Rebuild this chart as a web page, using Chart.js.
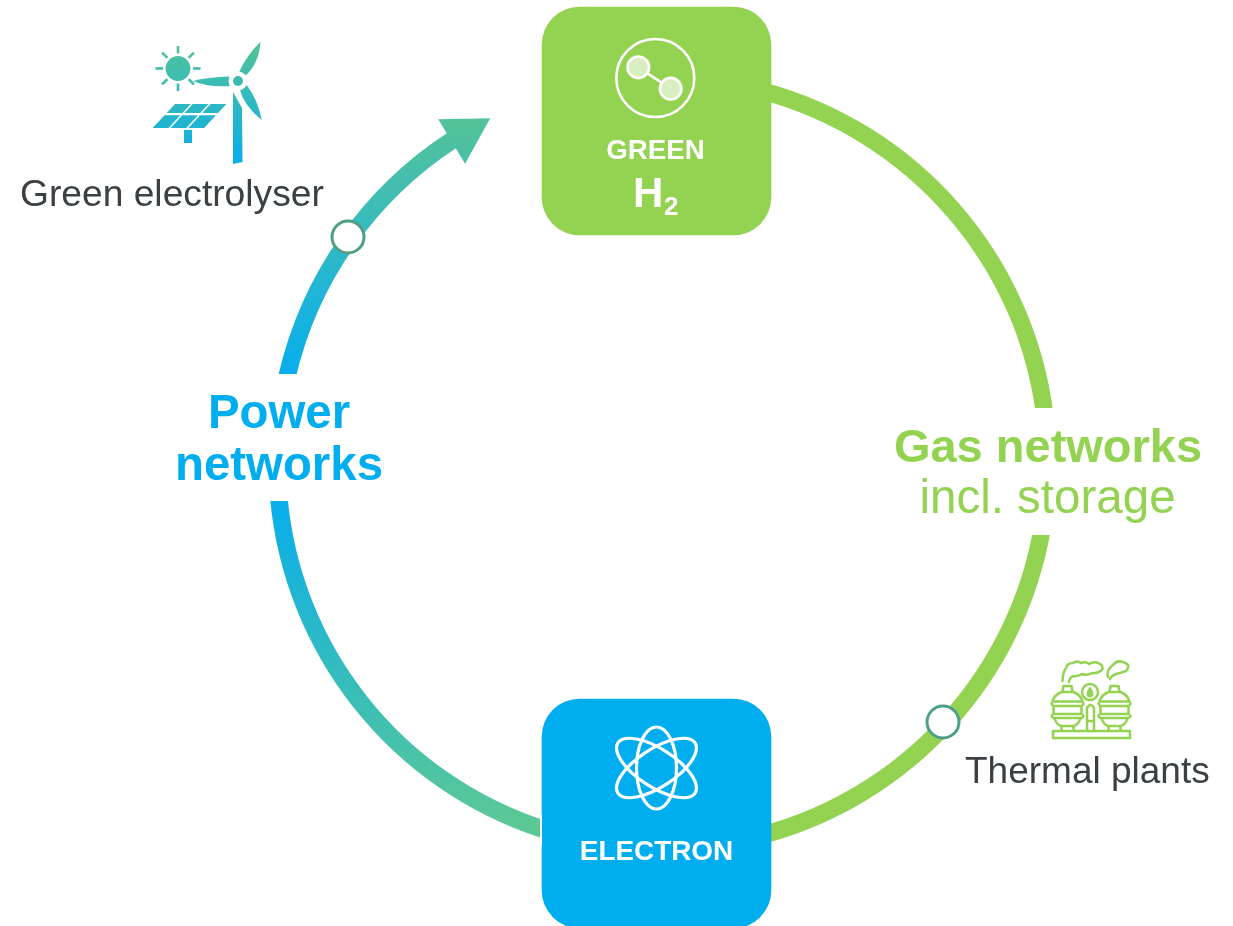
<!DOCTYPE html>
<html>
<head>
<meta charset="utf-8">
<title>Green hydrogen cycle</title>
<script src="https://cdn.jsdelivr.net/npm/chart.js@4"></script>
<style>
  html, body { margin: 0; padding: 0; background: #fff; overflow: hidden; }
  #wrap { width: 1233px; height: 926px; }
</style>
</head>
<body>
<div id="wrap"><canvas id="myChart" width="1233" height="926"></canvas></div>
<script>
// ring slices, in degrees clockwise from the top
const ring_labels = ['', 'gas upper', '', 'gas lower', '', 'power lower', '', 'power upper', ''];
const ring_spans = [15, 68, 16.5, 65.5, 33, 67, 18, 44, 33];

// the two carrier boxes
const box_names = ['GREEN', 'ELECTRON'];
const box_x = [656.5, 656.5];
const box_y = [[7, 235], [699, 928]];

// junction circles on the ring and the arrow head
const junction_x = [348, 943];
const junction_y = [237, 722];
const arrow_x = [464.5];
const arrow_y = [133.7];

// texts
const network_power = ['Power', 'networks'];
const network_gas = ['Gas networks', 'incl. storage'];
const source_labels = ['Green electrolyser', 'Thermal plants'];
const h2_label = ['H', '2'];

const GREEN = '#93d351';
const BLUE = '#00aeef';
const TEAL_TOP = '#54c298';
const TEAL_BLUE = '#08aeec';
const DARK = '#3b4045';
const FONT = "'Liberation Sans', Arial, sans-serif";

function vGradient(chart, y0, y1, stops) {
    const p0 = chart.scales.y.getPixelForValue(y0);
    const p1 = chart.scales.y.getPixelForValue(y1);
    // the scale has no pixels yet on the first pass through the options
    if (!isFinite(p0) || !isFinite(p1)) return stops[0];
    const g = chart.ctx.createLinearGradient(0, p0, 0, p1);
    stops.forEach((c, i) => g.addColorStop(i / (stops.length - 1), c));
    return g;
}

// upper power arc and arrow share one gradient
function upperGradient(chart) {
    return vGradient(chart, 373, 118, [TEAL_BLUE, '#22b5d6', '#3fbdb4', TEAL_TOP]);
}

function ringColor(c) {
    const chart = c.chart;
    switch (c.dataIndex) {
        case 1:
        case 3: return GREEN;
        case 5: return vGradient(chart, 501, 837, [TEAL_BLUE, '#5fc992']);
        case 7: return upperGradient(chart);
        default: return 'rgba(0,0,0,0)';
    }
}

function drawText(ctx, text, x, y, font, color, align) {
    ctx.font = font;
    ctx.fillStyle = color;
    ctx.textAlign = align || 'center';
    ctx.textBaseline = 'alphabetic';
    ctx.fillText(text, x, y);
}

function drawSolarWind(chart, ctx) {
    ctx.save();
    const grad = vGradient(chart, 42, 165, [TEAL_TOP, TEAL_BLUE]);
    ctx.fillStyle = grad;
    ctx.strokeStyle = grad;

    // sun
    ctx.beginPath();
    ctx.arc(178, 68.5, 12.4, 0, Math.PI * 2);
    ctx.fill();
    ctx.lineWidth = 2.6;
    for (let i = 0; i < 8; i++) {
        const a = i * Math.PI / 4;
        ctx.beginPath();
        ctx.moveTo(178 + Math.cos(a) * 15, 68.5 + Math.sin(a) * 15);
        ctx.lineTo(178 + Math.cos(a) * 22.5, 68.5 + Math.sin(a) * 22.5);
        ctx.stroke();
    }

    // solar panel, two rows of three
    const rows = [[104, 113], [115.3, 128]];
    const skew = 22.3 / 24;
    rows.forEach(function (r) {
        for (let i = 0; i < 3; i++) {
            const xl = 175 + i * 17.8;
            const w = 15.8;
            const topShift = (r[0] - 104) * skew;
            const botShift = (r[1] - 104) * skew;
            ctx.beginPath();
            ctx.moveTo(xl - topShift, r[0]);
            ctx.lineTo(xl + w - topShift, r[0]);
            ctx.lineTo(xl + w - botShift, r[1]);
            ctx.lineTo(xl - botShift, r[1]);
            ctx.closePath();
            ctx.fill();
        }
    });
    ctx.fillRect(184, 130, 8, 13);

    // turbine blades
    ctx.beginPath();
    ctx.moveTo(193, 81);
    ctx.quadraticCurveTo(208, 77, 230, 76.5);
    ctx.lineTo(230, 86);
    ctx.quadraticCurveTo(208, 87.5, 193, 81);
    ctx.fill();
    ctx.beginPath();
    ctx.moveTo(239.3, 71.7);
    ctx.quadraticCurveTo(246, 56, 260.5, 41.7);
    ctx.quadraticCurveTo(259, 64, 245, 76);
    ctx.closePath();
    ctx.fill();
    ctx.beginPath();
    ctx.moveTo(246.7, 85);
    ctx.quadraticCurveTo(258, 100, 261.7, 120);
    ctx.quadraticCurveTo(244, 106, 239.3, 88.3);
    ctx.closePath();
    ctx.fill();

    // tower and hub
    ctx.beginPath();
    ctx.moveTo(233, 92);
    ctx.lineTo(242, 108);
    ctx.lineTo(242.5, 162);
    ctx.lineTo(233, 164);
    ctx.closePath();
    ctx.fill();
    ctx.beginPath();
    ctx.arc(238, 81, 9.5, 0, Math.PI * 2);
    ctx.fillStyle = '#fff';
    ctx.fill();
    ctx.beginPath();
    ctx.arc(238, 81, 5, 0, Math.PI * 2);
    ctx.fillStyle = grad;
    ctx.fill();
    ctx.restore();
}

function drawHydrogen(ctx) {
    ctx.save();
    ctx.strokeStyle = '#fff';
    ctx.lineWidth = 2.6;
    ctx.beginPath();
    ctx.arc(655.3, 78, 39, 0, Math.PI * 2);
    ctx.stroke();
    ctx.beginPath();
    ctx.moveTo(638.3, 67.3);
    ctx.lineTo(670.7, 88.7);
    ctx.stroke();
    [[638.3, 67.3], [670.7, 88.7]].forEach(function (p) {
        ctx.beginPath();
        ctx.arc(p[0], p[1], 10.8, 0, Math.PI * 2);
        ctx.fillStyle = '#d9efc1';
        ctx.fill();
        ctx.stroke();
    });
    ctx.restore();
}

function drawAtom(ctx) {
    ctx.save();
    ctx.strokeStyle = '#fff';
    ctx.lineWidth = 3.2;
    ctx.beginPath();
    ctx.ellipse(656.5, 768, 20, 41, 0, 0, Math.PI * 2);
    ctx.stroke();
    [57, -57].forEach(function (deg) {
        ctx.beginPath();
        ctx.ellipse(656.5, 768, 19, 46, deg * Math.PI / 180, 0, Math.PI * 2);
        ctx.stroke();
    });
    ctx.restore();
}

function tank(ctx, cx) {
    ctx.beginPath();
    // cap
    ctx.moveTo(cx - 5, 692);
    ctx.lineTo(cx - 4, 686);
    ctx.lineTo(cx + 4, 686);
    ctx.lineTo(cx + 5, 692);
    // dome
    ctx.moveTo(cx - 6, 692);
    ctx.lineTo(cx + 6, 692);
    ctx.moveTo(cx - 6, 692);
    ctx.quadraticCurveTo(cx - 13, 695, cx - 15, 701);
    ctx.moveTo(cx + 6, 692);
    ctx.quadraticCurveTo(cx + 13, 695, cx + 15, 701);
    // upper band
    ctx.moveTo(cx - 14, 701.5);
    ctx.lineTo(cx + 14, 701.5);
    ctx.moveTo(cx - 14, 706);
    ctx.lineTo(cx + 14, 706);
    ctx.moveTo(cx - 14, 701.5);
    ctx.quadraticCurveTo(cx - 18, 703.7, cx - 14, 706);
    ctx.moveTo(cx + 14, 701.5);
    ctx.quadraticCurveTo(cx + 18, 703.7, cx + 14, 706);
    // waist
    ctx.moveTo(cx - 14, 706);
    ctx.lineTo(cx - 14, 714);
    ctx.moveTo(cx + 14, 706);
    ctx.lineTo(cx + 14, 714);
    // lower band
    ctx.moveTo(cx - 14, 714);
    ctx.lineTo(cx + 14, 714);
    ctx.moveTo(cx - 14, 718);
    ctx.lineTo(cx + 14, 718);
    ctx.moveTo(cx - 14, 714);
    ctx.quadraticCurveTo(cx - 18, 716, cx - 14, 718);
    ctx.moveTo(cx + 14, 714);
    ctx.quadraticCurveTo(cx + 18, 716, cx + 14, 718);
    // base of the tank
    ctx.moveTo(cx - 13, 718);
    ctx.quadraticCurveTo(cx - 11, 725, cx - 6, 726);
    ctx.lineTo(cx + 6, 726);
    ctx.quadraticCurveTo(cx + 11, 725, cx + 13, 718);
    ctx.moveTo(cx - 6, 726);
    ctx.lineTo(cx - 6, 731);
    ctx.moveTo(cx + 6, 726);
    ctx.lineTo(cx + 6, 731);
    ctx.stroke();
}

function drawThermal(ctx) {
    ctx.save();
    ctx.strokeStyle = GREEN;
    ctx.fillStyle = GREEN;
    ctx.lineWidth = 2.5;
    ctx.lineJoin = 'round';
    ctx.lineCap = 'round';
    ctx.strokeRect(1053, 731, 77, 7);
    tank(ctx, 1067.5);
    tank(ctx, 1114.5);

    // centre badge with drop
    ctx.beginPath();
    ctx.arc(1090, 692, 8, 0, Math.PI * 2);
    ctx.stroke();
    ctx.beginPath();
    ctx.moveTo(1090, 686.5);
    ctx.quadraticCurveTo(1094, 692, 1093.4, 694);
    ctx.arc(1090, 694, 3.4, 0, Math.PI);
    ctx.quadraticCurveTo(1086, 692, 1090, 686.5);
    ctx.fill();

    // pipe
    ctx.beginPath();
    ctx.moveTo(1087, 731);
    ctx.lineTo(1087, 708);
    ctx.quadraticCurveTo(1090.5, 702, 1094, 708);
    ctx.lineTo(1094, 731);
    ctx.moveTo(1087, 721);
    ctx.lineTo(1094, 721);
    ctx.stroke();

    // smoke
    ctx.beginPath();
    ctx.moveTo(1062.5, 681);
    ctx.quadraticCurveTo(1063, 672, 1066, 668);
    ctx.quadraticCurveTo(1067, 663, 1073, 663);
    ctx.quadraticCurveTo(1077, 660, 1081, 663);
    ctx.quadraticCurveTo(1086, 661, 1089, 664);
    ctx.quadraticCurveTo(1094, 661, 1098, 663);
    ctx.quadraticCurveTo(1104, 665, 1102, 670);
    ctx.quadraticCurveTo(1097, 674, 1092, 673);
    ctx.quadraticCurveTo(1087, 676, 1082, 674);
    ctx.quadraticCurveTo(1077, 677, 1073, 676);
    ctx.quadraticCurveTo(1069, 678, 1069, 682);
    ctx.moveTo(1108, 677);
    ctx.quadraticCurveTo(1106, 670, 1113, 665);
    ctx.quadraticCurveTo(1118, 659, 1125, 663);
    ctx.quadraticCurveTo(1131, 665, 1126, 671);
    ctx.quadraticCurveTo(1120, 673, 1116, 674);
    ctx.quadraticCurveTo(1111, 676, 1110, 679);
    ctx.stroke();
    ctx.restore();
}

// masks, icons and texts on top of the datasets
const overlayPlugin = {
    id: 'overlay',
    afterDatasetsDraw(chart) {
        const ctx = chart.ctx;
        ctx.save();

        // flat ends of the ring where the network names sit
        ctx.fillStyle = '#fff';
        ctx.fillRect(262, 374, 40, 127);
        ctx.fillRect(1025, 408, 40, 127);
        ctx.fillRect(540, 815, 2, 30);

        drawSolarWind(chart, ctx);
        drawHydrogen(ctx);
        drawAtom(ctx);
        drawThermal(ctx);

        drawText(ctx, network_power[0], 279, 428, "bold 47.4px " + FONT, BLUE);
        drawText(ctx, network_power[1], 279, 480, "bold 47.4px " + FONT, BLUE);
        drawText(ctx, network_gas[0], 1048, 461.5, "bold 47px " + FONT, GREEN);
        drawText(ctx, network_gas[1], 1047.5, 513, "47.5px " + FONT, GREEN);
        drawText(ctx, source_labels[0], 20, 206, "37.2px " + FONT, DARK, 'left');
        drawText(ctx, source_labels[1], 965, 783, "37px " + FONT, DARK, 'left');

        drawText(ctx, box_names[0], 655.5, 159, "bold 27.7px " + FONT, '#fff');
        drawText(ctx, h2_label[0], 633, 207, "bold 42px " + FONT, '#fff', 'left');
        drawText(ctx, h2_label[1], 664, 215, "bold 26px " + FONT, '#fff', 'left');
        drawText(ctx, box_names[1], 656.5, 860, "bold 27.9px " + FONT, '#fff');
        ctx.restore();
    }
};

const ctx = document.getElementById('myChart');
new Chart(ctx, {
    type: 'scatter',
    plugins: [overlayPlugin],
    data: {
        labels: ring_labels,
        datasets: [{
            // index 0 is drawn last, so the circles stay on top
            type: 'scatter',
            label: 'junctions',
            weight: 0,
            data: junction_x.map((x, i) => ({ x: x, y: junction_y[i] })),
            pointRadius: 16,
            pointBackgroundColor: '#fff',
            pointBorderColor: '#4f9e88',
            pointBorderWidth: 3,
        }, {
            type: 'scatter',
            label: 'arrow',
            weight: 0,
            data: arrow_x.map((x, i) => ({ x: x, y: arrow_y[i] })),
            pointStyle: 'triangle',
            pointRadius: 30,
            pointRotation: 59,
            pointBorderWidth: 0,
            pointBackgroundColor: (c) => upperGradient(c.chart),
        }, {
            type: 'bar',
            label: 'carriers',
            weight: 0,
            data: box_x.map((x, i) => ({ x: x, y: box_y[i] })),
            barThickness: 229,
            borderRadius: 38,
            borderSkipped: false,
            backgroundColor: [GREEN, BLUE],
        }, {
            type: 'doughnut',
            label: 'ring',
            data: ring_spans,
            radius: 394,
            cutout: (376.5 / 394 * 100) + '%',
            borderWidth: 0,
            backgroundColor: ringColor,
        }],
    },
    options: {
        responsive: false,
        animation: false,
        events: [],
        layout: { autoPadding: false, padding: { left: 92, right: 0, top: 0, bottom: 0 } },
        scales: {
            x: { type: 'linear', min: 92, max: 1233, display: false, offset: false, grid: { display: false } },
            y: { type: 'linear', min: 0, max: 926, reverse: true, display: false, grid: { display: false } },
        },
        plugins: {
            legend: { display: false },
            tooltip: { enabled: false },
        },
    },
});
</script>
</body>
</html>
